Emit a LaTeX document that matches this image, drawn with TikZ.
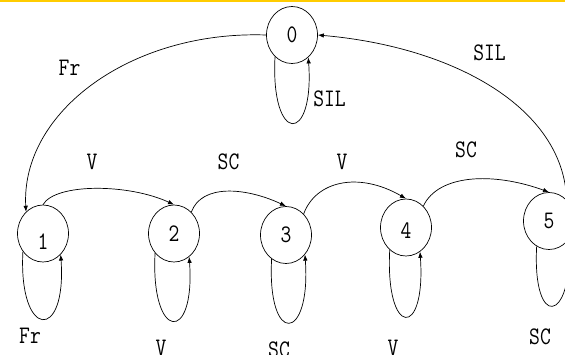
\documentclass[tikz,border=0pt]{standalone}
\usepackage{fontspec}
\usetikzlibrary{shapes.geometric,arrows.meta}
\definecolor{barcol}{HTML}{FFCC00}
\newcommand\mytxt[1]{\scalebox{1}[1.2]{#1}}
\begin{document}
\begin{tikzpicture}[x=1pt,y=1pt,
  st/.style={draw, ellipse, minimum width=51pt, minimum height=57pt, inner sep=0pt, line width=0.7pt,
    font=\ttfamily\fontsize{21}{21}\selectfont},
  lb/.style={inner sep=0pt, font=\ttfamily\fontsize{21}{21}\selectfont},
  arr/.style={-{Latex[length=6pt,width=4.5pt]}, line width=0.7pt},
  selfloop/.style={arr, out=267, in=274, distance=88pt}]
\useasboundingbox (0,0) rectangle (565,-354);
\clip (0,0) rectangle (565,-354);
\fill[barcol] (0,0) rectangle (565,-2.2);
% states
\node[st] (n0) at (292,-35) {\mytxt{0}};
\node[st, label={[lb, yshift=-8pt]center:\mytxt{1}}] (n1) at (43,-233.5) {};
\node[st] (n2) at (174,-233.5) {\mytxt{2}};
\node[st] (n3) at (286,-235) {\mytxt{3}};
\node[st, label={[lb, yshift=-3pt]center:\mytxt{4}}] (n4) at (406,-227.5) {};
\node[st] (n5) at (549,-221) {\mytxt{5}};
% transitions
\draw[arr] (n0.west) to[out=178, in=93, out distance=135pt, in distance=100pt] (n1.128);
\draw[arr] (n5.50) to[out=92, in=-5, out distance=92pt, in distance=137pt] (n0.east);
\draw[arr] (n1.north) to[out=60, in=155, out distance=25pt, in distance=50pt] (n2.north);
\draw[arr] (n2.51) to[out=70, in=155, out distance=30pt, in distance=45pt] (n3.north);
\draw[arr] (n3.50) to[out=70, in=150, out distance=35pt, in distance=55pt] (n4.north);
\draw[arr] (n4.51) to[out=65, in=160, out distance=35pt, in distance=60pt] (n5.north);
% self loops
\draw[selfloop] (n0.232) to (n0.306);
\draw[selfloop] (n1.222) to (n1.310);
\draw[selfloop] (n2.226) to (n2.303);
\draw[selfloop] (n3.239) to (n3.314);
\draw[selfloop] (n4.234) to (n4.300);
\draw[selfloop] (n5.244) to[out=267, in=272, distance=84pt] (n5.318);
% labels
\node[lb] (tFr) at (69.5,-68) {\mytxt{Fr}};
\node[lb] (tSIL) at (489.5,-53) {\mytxt{SIL}};
\node[lb] (tSILz) at (329.5,-98.5) {\mytxt{SIL}};
\node[lb] (tVa) at (92,-162) {\mytxt{V}};
\node[lb] (tSCa) at (228.5,-162) {\mytxt{SC}};
\node[lb] (tVb) at (342,-162) {\mytxt{V}};
\node[lb] (tSCb) at (466,-150) {\mytxt{SC}};
\node[lb] (tFrl) at (30,-336) {\mytxt{Fr}};
\node[lb] (tVl) at (161,-348) {\mytxt{V}};
\node[lb] (tSCl) at (279,-350) {\mytxt{SC}};
\node[lb] (tVm) at (393,-348) {\mytxt{V}};
\node[lb] (tSCm) at (540,-337) {\mytxt{SC}};
\end{tikzpicture}
\end{document}
